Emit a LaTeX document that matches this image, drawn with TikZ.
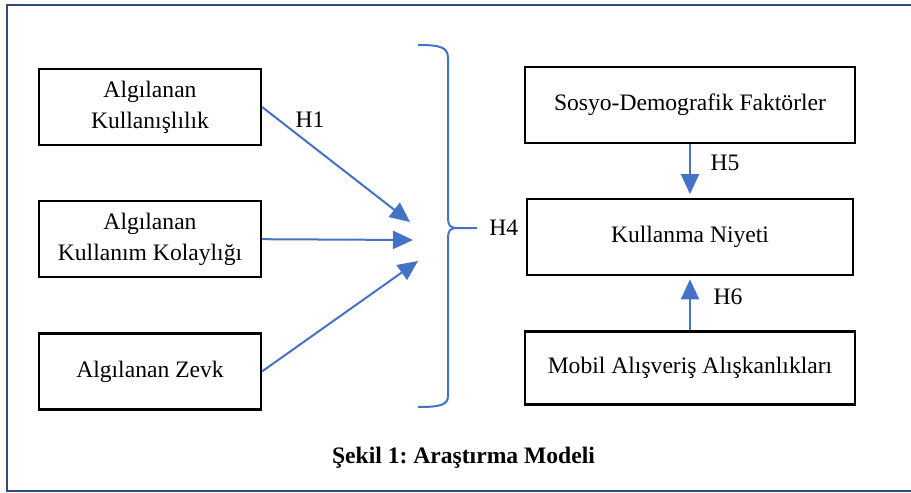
\documentclass[tikz,border=0pt]{standalone}
\usepackage{fontspec}
\setmainfont{Liberation Serif}
\usetikzlibrary{positioning,arrows.meta}
\definecolor{frameBlue}{HTML}{2F4B7C}
\definecolor{arrowBlue}{HTML}{4472C4}
\tikzset{
  factor/.style={rectangle, draw=black, line width=1.1pt, minimum height=38pt,
                 align=center, inner sep=2pt, font=\fontsize{11.8}{12.5}\selectfont},
  hyp/.style={-{Triangle[length=10pt,width=9pt]}, line width=1pt, draw=arrowBlue},
  bracket/.style={draw=arrowBlue, line width=1pt},
  hlabel/.style={inner sep=0pt, font=\fontsize{11.8}{12.5}\selectfont}
}

\begin{document}
\begin{tikzpicture}[x=0.5pt, y=-0.5pt, node distance=27pt]
\useasboundingbox (0,0) rectangle (911,493);
\draw[frameBlue, line width=1.3pt] (7,5) rectangle (930,491);
% left column
\node[factor, minimum width=111pt] (kull) at (150,107) {Algılanan\\[3pt]Kullanışlılık};
\node[factor, minimum width=111pt, below=of kull] (kolay) {Algılanan\\[3pt]Kullanım Kolaylığı};
\node[factor, minimum width=111pt, below=of kolay] (zevk) {Algılanan Zevk};
% arrow ends at the brace
\coordinate (t1) at (410,222);
\coordinate (t2) at (413,240);
\coordinate (t3) at (418,261);
\draw[hyp] (kull.east) -- (t1);
\draw[hyp] (kolay.east) -- (t2);
\draw[hyp] (zevk.east) -- (t3);
\node[hlabel] (h1) at (310,120) {H1};
% brace
\coordinate (tip) at (477,228);
\draw[bracket] (418,45) .. controls (440,45) and (448,47) .. (448,58) -- (448,217)
  .. controls (448,226) and (450,228) .. (458,228) -- (tip);
\draw[bracket] (458,228) .. controls (450,228) and (448,230) .. (448,239) -- (448,396)
  .. controls (448,405) and (440,407) .. (418,407);
\node[hlabel, right=6pt of tip] (h4) {H4};
% right column
\node[factor, minimum width=165pt] (sosyo) at (690,105) {Sosyo-Demografik Faktörler};
\node[factor, minimum width=163pt, below=of sosyo] (niyet) {Kullanma Niyeti};
\node[factor, minimum width=165pt, minimum height=36.5pt, below=of niyet] (mobil) {Mobil Alışveriş Alışkanlıkları};
\draw[hyp, shorten >=2pt] (sosyo.south) -- (sosyo.south |- niyet.north);
\draw[hyp, shorten >=1.5pt] (mobil.north) -- (mobil.north |- niyet.south);
\node[hlabel] (h5) at (725,163) {H5};
\node[hlabel] (h6) at (728,297) {H6};
% caption
\node[hlabel, font=\bfseries\fontsize{11.8}{12.5}\selectfont] (caption) at (463.5,458) {Şekil 1:\ Araştırma Modeli};
\end{tikzpicture}
\end{document}
